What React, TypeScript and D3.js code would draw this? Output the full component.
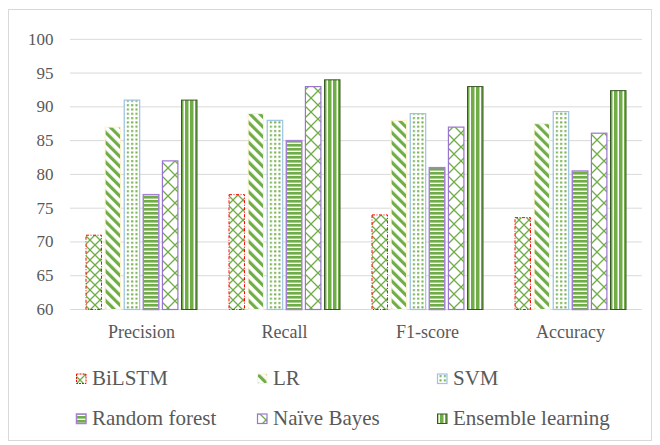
import React from "react";
import * as d3 from "d3";

const categories = ["Precision", "Recall", "F1-score", "Accuracy"];
const seriesNames = ["BiLSTM", "LR", "SVM", "Random forest", "Naïve Bayes", "Ensemble learning"];
const bilstm = [71, 77, 74, 73.6];
const lr = [87, 89, 88, 87.5];
const svm = [91, 88, 89, 89.3];
const randomForest = [77, 85, 81, 80.5];
const naiveBayes = [82, 93, 87, 86.1];
const ensemble = [91, 94, 93, 92.4];
const seriesValues = [bilstm, lr, svm, randomForest, naiveBayes, ensemble];
const yTicks = [60, 65, 70, 75, 80, 85, 90, 95, 100];

const GREEN = "#70AD47";
const TEXT = "#595959";
const FONT = "Liberation Serif, Times New Roman, Tinos, DejaVu Serif, serif";

const styles = [
  { fill: "url(#p0)", stroke: "#FF0000", dash: "3,1.5,1,1.5", sw: 1 },
  { fill: "url(#p1)", stroke: "#FFF2CC", dash: undefined, sw: 1 },
  { fill: "url(#p2)", stroke: "#9DC3E6", dash: undefined, sw: 1.2 },
  { fill: "url(#p3)", stroke: "#A67FD6", dash: undefined, sw: 1.5 },
  { fill: "url(#p4)", stroke: "#9B74D0", dash: undefined, sw: 1.2 },
  { fill: "url(#p5)", stroke: "#385723", dash: undefined, sw: 1 },
];

export default function App() {
  const x0 = d3.scaleBand<string>().domain(categories).range([70, 642]);
  const x1 = d3
    .scaleBand<string>()
    .domain(seriesNames)
    .range([16, 127])
    .paddingInner(0.19)
    .paddingOuter(0);
  const y = d3.scaleLinear().domain([60, 100]).range([309.5, 39.3]);

  const legendPos = [
    { x: 76.5, y: 374 },
    { x: 257.5, y: 374 },
    { x: 437.5, y: 374 },
    { x: 76.5, y: 414 },
    { x: 257.5, y: 414 },
    { x: 437.5, y: 414 },
  ];

  const textStyle = { fontFamily: FONT };

  return (
    <svg
      width={660}
      height={445}
      style={{ position: "absolute", left: 0, top: 0, background: "#fff" }}
    >
      <defs>
        <pattern id="p0" patternUnits="userSpaceOnUse" width={10} height={10}>
          <rect width={10} height={10} fill="#fff" />
          <path d="M0,0L10,10M10,0L0,10" stroke={GREEN} strokeWidth={1.3} />
        </pattern>
        <pattern id="p1" patternUnits="userSpaceOnUse" width={7} height={7} patternTransform="rotate(-45)">
          <rect width={7} height={7} fill="#fff" />
          <rect width={3.2} height={7} fill={GREEN} />
        </pattern>
        <pattern id="p2" patternUnits="userSpaceOnUse" width={4.3} height={4.3}>
          <rect width={4.3} height={4.3} fill="#fff" />
          <rect x={1} y={1} width={2} height={2} fill={GREEN} />
        </pattern>
        <pattern id="p3" patternUnits="userSpaceOnUse" width={4} height={4}>
          <rect width={4} height={4} fill="#fff" />
          <rect width={4} height={2.6} fill={GREEN} />
        </pattern>
        <pattern id="p4" patternUnits="userSpaceOnUse" width={14} height={14}>
          <rect width={14} height={14} fill="#fff" />
          <path d="M0,0L14,14M14,0L0,14" stroke={GREEN} strokeWidth={1.3} />
        </pattern>
        <pattern id="p5" patternUnits="userSpaceOnUse" width={5} height={5}>
          <rect width={5} height={5} fill={GREEN} />
          <rect x={3.5} width={1.5} height={5} fill="#fff" />
        </pattern>
      </defs>

      <rect x={8.5} y={9.5} width={643} height={431} fill="#fff" stroke="#D9D9D9" />

      {yTicks.map((t) => (
        <g key={t}>
          <line x1={70} x2={642} y1={y(t)} y2={y(t)} stroke="#D9D9D9" strokeWidth={1} />
          <text
            x={53.5}
            y={y(t)}
            textAnchor="end"
            dominantBaseline="central"
            fontSize={17}
            fill={TEXT}
            style={textStyle}
          >
            {t}
          </text>
        </g>
      ))}

      {categories.map((c, ci) => (
        <g key={c} transform={`translate(${x0(c)},0)`}>
          {seriesNames.map((s, si) => {
            const v = seriesValues[si][ci];
            const st = styles[si];
            return (
              <rect
                key={s}
                x={x1(s)!}
                y={y(v)}
                width={x1.bandwidth()}
                height={y(60) - y(v)}
                fill={st.fill}
                stroke={st.stroke}
                strokeWidth={st.sw}
                strokeDasharray={st.dash}
              />
            );
          })}
          <text
            x={x0.bandwidth() / 2}
            y={338}
            textAnchor="middle"
            fontSize={18}
            fill={TEXT}
            style={textStyle}
          >
            {c}
          </text>
        </g>
      ))}

      {seriesNames.map((s, si) => {
        const p = legendPos[si];
        const st = styles[si];
        return (
          <g key={s}>
            <rect
              x={p.x}
              y={p.y}
              width={9.5}
              height={9.5}
              fill={st.fill}
              stroke={st.stroke}
              strokeWidth={st.sw}
              strokeDasharray={st.dash ? "2,1" : undefined}
            />
            <text x={p.x + 15.5} y={p.y + 11} fontSize={21} fill={TEXT} style={textStyle}>
              {s}
            </text>
          </g>
        );
      })}
    </svg>
  );
}
